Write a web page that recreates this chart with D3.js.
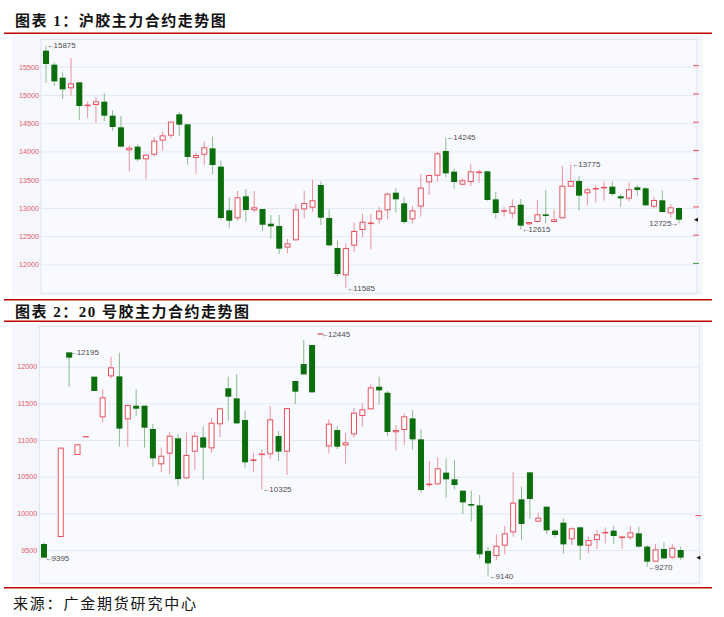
<!DOCTYPE html>
<html><head><meta charset="utf-8">
<script src="https://cdn.jsdelivr.net/npm/d3@7"></script>
<style>
html,body{margin:0;padding:0;background:#fff;}
svg{display:block;}
</style></head><body>
<svg id="c" width="724" height="617"></svg>
<script>
// ---------- Chart 1: 沪胶主力合约 ----------
const rubberOpen  = [15784,15536,15306,15117,15223,14810,14822,14881,14633,14427,14020,14085,13860,13943,14191,14279,14657,14480,13884,13943,14055,13731,12958,12816,13206,12958,12981,12721,12680,12297,12427,12975,13004,13406,12822,12291,11807,12332,12610,12722,12798,12957,13270,13082,12798,13023,13453,13571,14008,13642,13412,13459,13613,13648,13152,12940,12899,13058,12710,12751,12887,12751,12816,13377,13477,13259,13335,13355,13377,13206,13164,13365,13347,13022,13135,12905,12999];
const rubberHigh  = [15875,15577,15412,15654,15223,14887,14964,15029,14728,14627,14102,14120,13943,14256,14356,14527,14698,14480,13967,14179,14262,13837,13188,13300,13335,13300,12981,12875,12875,12450,13070,13306,13500,13465,12975,12420,12374,12739,12893,12893,13022,13265,13347,13188,13034,13595,13595,13996,14245,13695,13513,13772,13672,13648,13282,13022,13152,13158,12751,13141,13318,12975,13742,13775,13571,13359,13394,13465,13465,13241,13453,13406,13365,13199,13312,13070,13011];
const rubberLow   = [15211,15164,14928,14987,14562,14592,14509,14533,14368,14073,13648,13825,13506,13908,14014,14226,14273,13766,13601,13766,13595,12787,12650,12774,12757,12933,12592,12462,12185,12197,12427,12822,12933,12698,12315,11795,11585,12220,12480,12267,12716,12802,12922,12716,12722,12846,13229,13464,13542,13341,13400,13388,13447,13129,12810,12846,12816,12615,12700,12740,12728,12740,12810,13371,12952,13046,13099,13129,13217,13022,13117,13217,13034,12993,12922,12834,12725];
const rubberClose = [15548,15241,15099,15206,14804,14820,14887,14633,14433,14085,14067,13860,13943,14191,14285,14527,14474,13902,13937,14073,13760,12822,12774,13188,12964,13011,12703,12674,12279,12374,12975,13087,13135,12827,12338,11831,12291,12592,12757,12734,12952,13253,13152,12751,12957,13359,13583,13967,13613,13459,13489,13648,13648,13141,12910,12952,13034,12686,12751,12887,12857,12798,13394,13477,13217,13329,13345,13365,13247,13170,13329,13318,13046,13141,12928,13011,12792];
const rubberTicks = [12000,12500,13000,13500,14000,14500,15000,15500];
const rubberNoteIdx  = [0, 36, 48, 57, 63, 76];
const rubberNoteVal  = [15875, 11585, 14245, 12615, 13775, 12725];
const rubberNoteSide = ["r","r","r","r","r","l"];
const rubberRightTicks = [15500,15000,14500,14000,13500,13000,12500,12000];
const rubberRightTickColors = ["#e9505c","#e9505c","#e9505c","#e9505c","#e9505c","#e9505c","#e9505c","#3c9a3c"];

// ---------- Chart 2: 20号胶主力合约 ----------
const nrOpen  = [9582,null,9677,12195,10796,11045,11864,11309,11868,11868,11282,11468,11468,11150,10668,10814,11023,10477,10841,11036,10886,11214,11705,11568,11273,10720,10800,10805,11055,10841,11805,12036,12295,12445,10914,11136,10927,11077,11327,11418,11727,11645,11105,11136,11295,11009,10390,10396,10555,10464,10309,10127,10109,9486,9418,9559,9741,10191,10559,9887,10091,9764,9873,9646,9809,9559,9636,9723,9764,9668,9668,9727,9546,9341,9514,9396,9500];
const nrHigh  = [9605,null,10896,12195,10941,11045,11864,11691,12136,12191,11486,11695,11468,11218,10896,11105,11082,11105,11114,11186,11295,11441,11864,11900,11400,10827,10873,11464,11123,11436,11805,12364,12295,12445,11282,11191,11105,11432,11500,11759,11864,11668,11205,11364,11409,11145,10714,10764,10750,10727,10309,10309,10250,9546,9714,9827,10559,10364,10559,10009,10091,9786,9932,9809,9818,9691,9773,9809,9827,9691,9827,9818,9568,9582,9605,9582,9546];
const nrLow   = [9395,null,9677,11727,10796,11045,11668,11241,11841,10909,10909,11327,10896,10636,10559,10536,10377,10470,10591,10459,10827,11041,11264,11218,10623,10559,10325,10741,10714,10523,11491,11895,11650,12445,10818,10877,10677,11032,11182,11418,11486,11050,10855,10932,10864,10286,10364,10396,10214,10327,9991,9887,9386,9140,9359,9441,9682,9636,9923,9887,9718,9673,9450,9568,9359,9455,9514,9591,9582,9514,9636,9532,9270,9340,9373,9377,9364];
const nrClose = [9396,null,10896,12123,10941,11045,11668,11582,11991,11155,11477,11427,11168,10750,10786,11059,10468,10796,11059,10896,11236,11432,11591,11227,10696,10730,10810,11282,10841,11436,11659,11895,11650,12445,11223,10909,10968,11373,11418,11718,11677,11109,11136,11323,11009,10318,10400,10614,10464,10386,10150,10105,9441,9318,9559,9727,10146,9855,10196,9941,9768,9705,9577,9796,9559,9636,9714,9750,9691,9678,9741,9546,9341,9509,9386,9532,9396];
const nrTicks = [9500,10000,10500,11000,11500,12000];
const nrNoteIdx  = [0, 3, 26, 33, 53, 72];
const nrNoteVal  = [9395, 12195, 10325, 12445, 9140, 9270];
const nrNoteSide = ["r","r","r","r","r","r"];
const nrRightTicks = [9955];
const nrRightTickColors = ["#e9505c"];

const titles = ["图表 1：沪胶主力合约走势图", "图表 2：20 号胶主力合约走势图"];
const sourceText = "来源：广金期货研究中心";

// ---------- drawing ----------
const svg = d3.select("#c");
const RED = "#e9505c", GREEN = "#0b6d0b";

function drawChart(cfg) {
  const g = svg.append("g");
  const n = cfg.open.length;
  const x = d3.scaleLinear().domain([0, n - 1]).range([cfg.x0, cfg.x1]);
  const y = d3.scaleLinear().domain(cfg.yDomain).range([cfg.bottom, cfg.top]);

  g.append("rect").attr("x", cfg.boxL).attr("y", cfg.boxT)
    .attr("width", cfg.boxR - cfg.boxL).attr("height", cfg.boxB - cfg.boxT)
    .attr("fill", "#f6f7fc");
  g.append("rect").attr("x", cfg.left).attr("y", cfg.top)
    .attr("width", cfg.right - cfg.left).attr("height", cfg.bottom - cfg.top)
    .attr("fill", "#f9faff").attr("stroke", "#dde4f0").attr("stroke-width", 1);

  const axis = d3.axisLeft(y).tickValues(cfg.ticks).tickSize(-(cfg.right - cfg.left)).tickPadding(2).tickFormat(d3.format("d"));
  const ax = g.append("g").attr("transform", `translate(${cfg.left},0)`).call(axis);
  ax.select(".domain").remove();
  ax.selectAll(".tick line").attr("stroke", "#e2e9f5").attr("stroke-width", 1);
  ax.selectAll(".tick text").attr("fill", "#e2596a")
    .style("font-family", "'Liberation Sans', Arial, sans-serif").style("font-size", "7.2px");

  const data = d3.range(n).filter(i => cfg.open[i] != null).map(i => ({
    i, o: cfg.open[i], h: cfg.high[i], l: cfg.low[i], c: cfg.close[i]
  }));

  const cg = g.append("g");
  data.forEach(d => {
    const cx = x(d.i);
    const up = d.c >= d.o;
    if (d.h === d.l) {
      cg.append("line").attr("x1", cx - 3).attr("x2", cx + 3)
        .attr("y1", y(d.h)).attr("y2", y(d.h)).attr("stroke", RED).attr("stroke-width", 1.3);
      return;
    }
    cg.append("line").attr("x1", cx).attr("x2", cx).attr("y1", y(d.h)).attr("y2", y(d.l))
      .attr("stroke", up ? "#ee6f7a" : "#5f9f5f").attr("stroke-opacity", up ? 0.75 : 0.7).attr("stroke-width", 1);
    const top = y(Math.max(d.o, d.c)), bot = y(Math.min(d.o, d.c));
    const hgt = bot - top;
    if (hgt < 2) {
      cg.append("line").attr("x1", cx - 3).attr("x2", cx + 3)
        .attr("y1", (top + bot) / 2).attr("y2", (top + bot) / 2)
        .attr("stroke", up ? RED : GREEN).attr("stroke-width", 1.6);
    } else if (up) {
      cg.append("rect").attr("x", cx - 2.5).attr("y", top + 0.5).attr("width", 5).attr("height", hgt - 1)
        .attr("fill", "#ffffff").attr("stroke", RED).attr("stroke-width", 1);
    } else {
      cg.append("rect").attr("x", cx - 3).attr("y", top).attr("width", 6).attr("height", hgt)
        .attr("fill", GREEN);
    }
  });

  // annotations
  cfg.noteIdx.forEach((idx, k) => {
    const v = cfg.noteVal[k], side = cfg.noteSide[k];
    const t = g.append("text")
      .attr("x", side === "r" ? x(idx) + 1 : x(idx) - 1)
      .attr("y", y(v)).attr("dy", "0.35em")
      .attr("text-anchor", side === "r" ? "start" : "end")
      .attr("fill", "#4d4d4d")
      .style("font-family", "'Liberation Sans', Arial, sans-serif").style("font-size", "8px");
    if (side === "r") {
      t.append("tspan").text("←");
      t.append("tspan").attr("dx", -1.5).text(v);
    } else {
      t.append("tspan").text(v);
      t.append("tspan").attr("dx", -1.5).text("→");
    }
  });

  // right side ticks
  cfg.rightTicks.forEach((v, k) => {
    g.append("line").attr("x1", cfg.right - 4).attr("x2", cfg.right + 2).attr("y1", y(v) - 1).attr("y2", y(v) - 1)
      .attr("stroke", cfg.rightTickColors[k]).attr("stroke-width", 1);
  });
  // last-price marker
  const last = data[data.length - 1];
  const ly = y(last.c);
  g.append("path").attr("d", `M${cfg.right - 3},${ly} L${cfg.right + 1},${ly - 2} L${cfg.right + 1},${ly + 2} Z`)
    .attr("fill", "#111");
}

drawChart({
  open: rubberOpen, high: rubberHigh, low: rubberLow, close: rubberClose,
  ticks: rubberTicks, noteIdx: rubberNoteIdx, noteVal: rubberNoteVal, noteSide: rubberNoteSide,
  rightTicks: rubberRightTicks, rightTickColors: rubberRightTickColors,
  yDomain: [11489, 15985], top: 39.3, bottom: 293.3, left: 41, right: 697,
  x0: 46, x1: 679, boxL: 12, boxR: 703, boxT: 35, boxB: 295.5
});
drawChart({
  open: nrOpen, high: nrHigh, low: nrLow, close: nrClose,
  ticks: nrTicks, noteIdx: nrNoteIdx, noteVal: nrNoteVal, noteSide: nrNoteSide,
  rightTicks: nrRightTicks, rightTickColors: nrRightTickColors,
  yDomain: [9046, 12548], top: 326.5, bottom: 583.3, left: 39.3, right: 699.3,
  x0: 44, x1: 680.7, boxL: 12, boxR: 703, boxT: 323.5, boxB: 585
});

// titles, rules, source
const LINE = "#c00000";
[33.3, 299.7, 321.3, 587.7].forEach(yy => {
  svg.append("line").attr("x1", 4).attr("x2", 712).attr("y1", yy).attr("y2", yy)
    .attr("stroke", LINE).attr("stroke-width", 1.5);
});
svg.append("text").attr("x", 15).attr("y", 25.8).text(titles[0])
  .attr("fill", "#111").style("font-family", "'Liberation Serif', 'Noto Sans CJK SC', sans-serif")
  .style("font-weight", "700").style("font-size", "15px").style("letter-spacing", "1.5px");
svg.append("text").attr("x", 15).attr("y", 316.8).text(titles[1])
  .attr("fill", "#111").style("font-family", "'Liberation Serif', 'Noto Sans CJK SC', sans-serif")
  .style("font-weight", "700").style("font-size", "15px").style("letter-spacing", "1.5px");
svg.append("text").attr("x", 13).attr("y", 608.5).text(sourceText)
  .attr("fill", "#111").style("font-family", "'Noto Sans CJK SC', sans-serif")
  .style("font-weight", "400").style("font-size", "15px").style("letter-spacing", "1.8px");
</script>
</body></html>
